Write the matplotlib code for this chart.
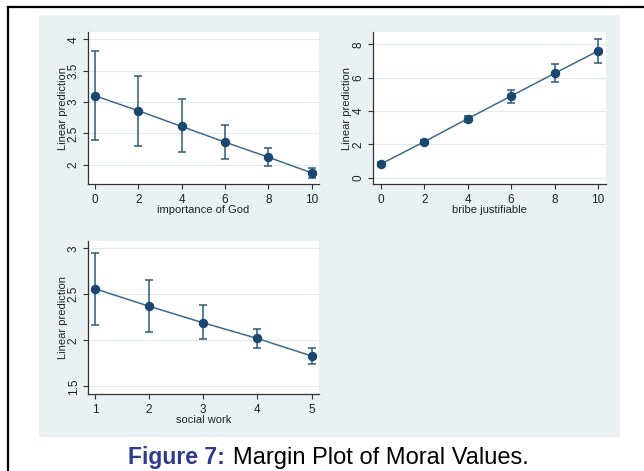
import matplotlib
matplotlib.use("Agg")
import matplotlib.pyplot as plt
from matplotlib.patches import Rectangle
from matplotlib.lines import Line2D

plt.rcParams['font.family'] = ['Liberation Sans', 'DejaVu Sans']

# margins: x level, predicted value, 95% CI
god_x = [0, 2, 4, 6, 8, 10]
god_y = [3.10, 2.86, 2.61, 2.36, 2.12, 1.87]
god_lo = [2.39, 2.30, 2.20, 2.09, 1.98, 1.79]
god_hi = [3.82, 3.42, 3.04, 2.64, 2.26, 1.95]

bribe_x = [0, 2, 4, 6, 8, 10]
bribe_y = [0.82, 2.16, 3.54, 4.90, 6.26, 7.60]
bribe_lo = [0.70, 2.05, 3.32, 4.50, 5.72, 6.90]
bribe_hi = [0.95, 2.28, 3.72, 5.28, 6.80, 8.32]

social_x = [1, 2, 3, 4, 5]
social_y = [2.56, 2.37, 2.19, 2.02, 1.83]
social_lo = [2.17, 2.09, 2.01, 1.92, 1.74]
social_hi = [2.95, 2.66, 2.38, 2.12, 1.92]

navy = '#1A476F'
region = '#EAF1F3'
grid = '#E2ECEF'

fig = plt.figure(figsize=(6.44, 4.71), dpi=100)
W, H = 644, 471


def box(l, t, r, b):
    return [l / W, 1 - b / H, (r - l) / W, (b - t) / H]


# outer frame (left and top rules) and graph region
fig.add_artist(Line2D([8 / W, 8 / W], [0, 1 - 7 / H], color='black', lw=1.6))
fig.add_artist(Line2D([8 / W, 1], [1 - 7 / H, 1 - 7 / H], color='black', lw=1.6))
fig.add_artist(Rectangle((39 / W, 1 - 437 / H), 581 / W, 422 / H,
                         facecolor=region, edgecolor='none', zorder=0))


def margins_plot(rect, x, y, lo, hi, xlabel, xlim, ylim, xticks, yticks, yticklabels):
    ax = fig.add_axes(rect)
    ax.set_facecolor('white')
    err = [[v - l for v, l in zip(y, lo)], [h - v for v, h in zip(y, hi)]]
    ax.errorbar(x, y, yerr=err, fmt='none', ecolor='#2E5A7E', elinewidth=1.1,
                capsize=2.6, capthick=1.1, zorder=2)
    ax.plot(x, y, color='#3F6A8E', lw=1.1, zorder=3)
    ax.plot(x, y, 'o', color=navy, ms=5.8, zorder=4)
    ax.set_xlim(*xlim)
    ax.set_ylim(*ylim)
    ax.set_xticks(xticks)
    ax.set_yticks(yticks)
    ax.set_yticklabels(yticklabels, rotation=90, va='center')
    for v in yticks:
        ax.axhline(v, color=grid, lw=0.9, zorder=1)
    for s in ('top', 'right'):
        ax.spines[s].set_visible(False)
    for s in ('left', 'bottom'):
        ax.spines[s].set_color('#333333')
        ax.spines[s].set_linewidth(0.9)
    ax.tick_params(length=3.5, width=0.8, color='#333333', labelsize=8.5,
                   labelcolor='#222222')
    ax.tick_params(axis='x', pad=4)
    ax.tick_params(axis='y', pad=2.5)
    ax.set_xlabel(xlabel, fontsize=8, color='#222222', labelpad=-1)
    ax.set_ylabel('Linear prediction', fontsize=8, color='#222222', labelpad=0)
    return ax


margins_plot(box(88, 32, 319, 184), god_x, god_y, god_lo, god_hi,
             'importance of God', (-0.32, 10.34), (1.692, 4.116),
             [0, 2, 4, 6, 8, 10], [2, 2.5, 3, 3.5, 4], ['2', '2.5', '3', '3.5', '4'])

margins_plot(box(372.7, 32, 606, 184), bribe_x, bribe_y, bribe_lo, bribe_hi,
             'bribe justifiable', (-0.38, 10.37), (-0.38, 8.74),
             [0, 2, 4, 6, 8, 10], [0, 2, 4, 6, 8], ['0', '2', '4', '6', '8'])

margins_plot(box(88, 241, 319, 393.7), social_x, social_y, social_lo, social_hi,
             'social work', (0.871, 5.138), (1.42, 3.079),
             [1, 2, 3, 4, 5], [1.5, 2, 2.5, 3], ['1.5', '2', '2.5', '3'])

# caption
fig.text(225 / W, 1 - 464 / H, 'Figure 7:', ha='right', va='baseline',
         fontsize=16.5, fontweight='bold', color='#2E3A8C')
fig.text(233 / W, 1 - 464 / H, 'Margin Plot of Moral Values.', ha='left',
         va='baseline', fontsize=17, color='black')

fig.savefig('out.png', dpi=100)
